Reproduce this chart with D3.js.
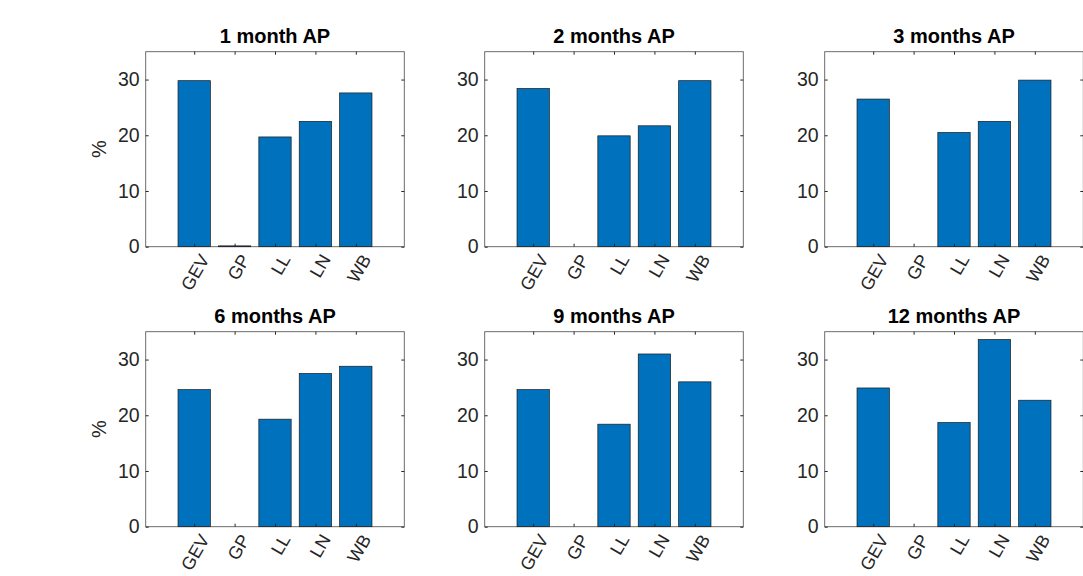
<!DOCTYPE html>
<html><head><meta charset="utf-8">
<script src="https://cdn.jsdelivr.net/npm/d3@7"></script>
<style>body{margin:0;background:#fff;} text{font-family:"Liberation Sans",Arial,Helvetica,sans-serif;}</style>
</head><body>
<svg id="c" width="1083" height="576"></svg>
<script>
const categories = ["GEV","GP","LL","LN","WB"];
const titles = ["1 month AP","2 months AP","3 months AP","6 months AP","9 months AP","12 months AP"];
const v1m  = [29.8, 0.15, 19.7, 22.5, 27.6];
const v2m  = [28.4, 0, 19.9, 21.7, 29.8];
const v3m  = [26.5, 0, 20.5, 22.5, 29.9];
const v6m  = [24.6, 0, 19.3, 27.5, 28.8];
const v9m  = [24.6, 0, 18.4, 31.0, 26.0];
const v12m = [24.9, 0, 18.7, 33.6, 22.7];
const seriesValues = [v1m, v2m, v3m, v6m, v9m, v12m];
const yTicks = [0, 10, 20, 30];
const yLabel = "%";

const svg = d3.select("#c");
const lefts = [145.7, 484.7, 824.7], tops = [51.7, 331.7];
const W = 258.6, H = 195;
const axisColor = "#262626";

seriesValues.forEach((vals, i) => {
  const col = i % 3, row = Math.floor(i / 3);
  const g = svg.append("g").attr("transform", `translate(${lefts[col]},${tops[row]})`);
  const x = d3.scaleLinear().domain([-0.2, 6.2]).range([0, W]);
  const y = d3.scaleLinear().domain([0, 35]).range([H, 0]);
  const bw = x(0.8) - x(0);

  g.selectAll("rect.bar").data(vals).join("rect").attr("class","bar")
    .attr("x", (d, j) => x(j + 1) - bw / 2)
    .attr("y", d => y(d))
    .attr("width", bw)
    .attr("height", d => y(0) - y(d))
    .attr("fill", "#0072BD")
    .attr("stroke", "#1a1a1a")
    .attr("stroke-width", 0.7);

  g.append("rect").attr("x",0).attr("y",0).attr("width",W).attr("height",H)
    .attr("fill","none").attr("stroke",axisColor).attr("stroke-width",0.9).attr("stroke-opacity",0.75);

  const tl = 3;
  const yAx = d3.axisLeft(y).tickValues(yTicks).tickSize(-tl).tickPadding(6).tickFormat(d3.format("d"));
  const ya = g.append("g").call(yAx);
  ya.select(".domain").remove();
  ya.selectAll("line").attr("stroke", axisColor);
  ya.selectAll("text").attr("font-size", 19.5).attr("fill", axisColor);
  const yr = g.append("g").attr("transform",`translate(${W},0)`).call(d3.axisRight(y).tickValues(yTicks).tickSize(-tl).tickFormat(""));
  yr.select(".domain").remove();
  yr.selectAll("line").attr("stroke", axisColor);

  const xa = g.append("g").attr("transform",`translate(0,${H})`).call(d3.axisBottom(x).tickValues([1,2,3,4,5]).tickSize(-tl).tickFormat(""));
  xa.select(".domain").remove();
  xa.selectAll("line").attr("stroke", axisColor);
  const xt = g.append("g").call(d3.axisTop(x).tickValues([1,2,3,4,5]).tickSize(-tl).tickFormat(""));
  xt.select(".domain").remove();
  xt.selectAll("line").attr("stroke", axisColor);

  g.selectAll("text.xl").data(categories).join("text").attr("class","xl")
    .attr("transform", (d, j) => `translate(${x(j + 1) + 5},${H + 6}) rotate(-60)`)
    .attr("text-anchor","end").attr("dy","0.7em")
    .attr("font-size",18).attr("fill",axisColor).text(d => d);

  g.append("text").attr("x", W / 2).attr("y", -9).attr("text-anchor","middle")
    .attr("font-size",20).attr("font-weight","bold").attr("fill","#000").text(titles[i]);

  if (col === 0) {
    g.append("text").attr("transform", `translate(${-40},${H / 2}) rotate(-90)`)
      .attr("text-anchor","middle").attr("font-size",20).attr("fill",axisColor).text(yLabel);
  }
});
</script>
</body></html>
